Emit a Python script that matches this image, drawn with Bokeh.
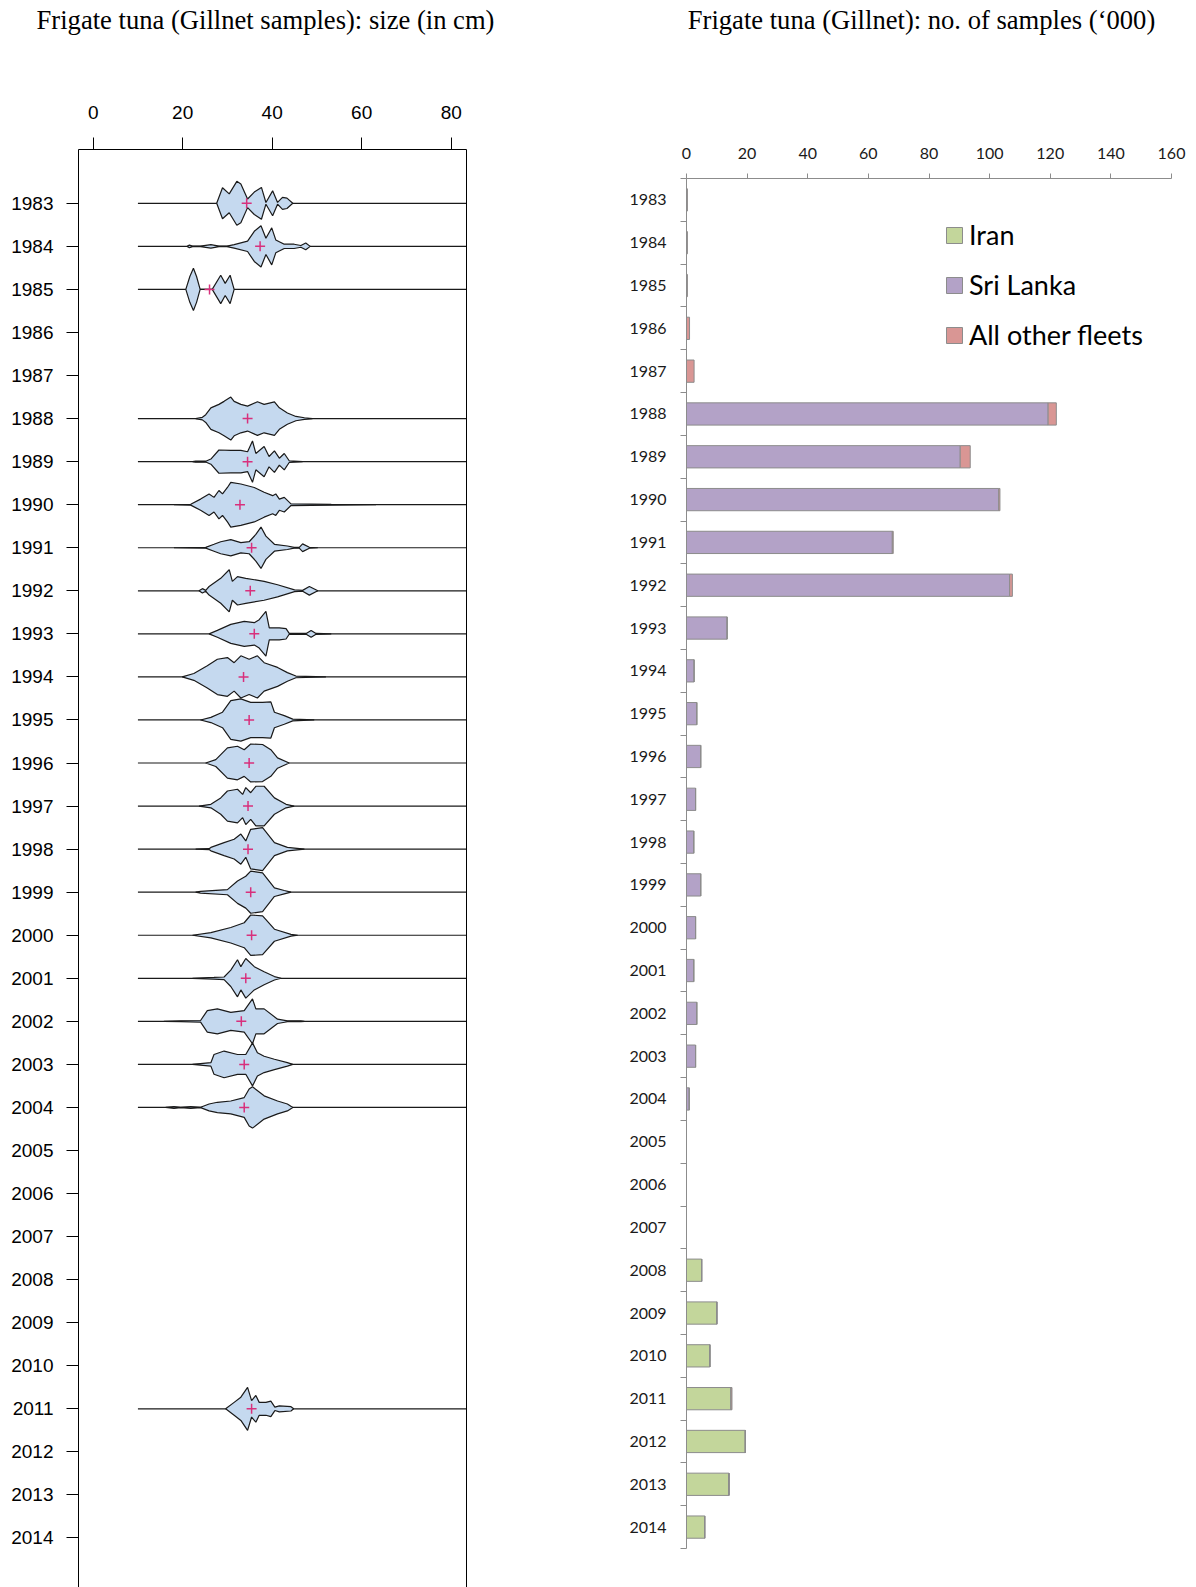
from bokeh.plotting import figure
from bokeh.models import (Range1d, FixedTicker, LinearAxis, Legend, LegendItem,
                          ColumnDataSource)
from bokeh.layouts import row, column
from bokeh.core.properties import value
from bokeh.embed import file_html
from bokeh.resources import INLINE

# ---------------- data ----------------
years = list(range(1983, 2015))
year_labels = [str(y) for y in years]
size_ticks = [0, 20, 40, 60, 80]
sample_ticks = [0, 20, 40, 60, 80, 100, 120, 140, 160]

titles = ["Frigate tuna (Gillnet samples): size (in cm)",
          "Frigate tuna (Gillnet): no. of samples (\u2018000)"]

# bean outlines: (length in cm, half-width in years)
bean_1983 = [(27.6, 0), (28.9, 0.36), (30.4, 0.22), (32.1, 0.51), (33.0, 0.45), (34.5, 0.10),
             (36.0, 0.26), (37.6, 0.37), (38.6, 0.02), (40.1, 0.29), (41.2, 0.02), (42.3, 0.14),
             (43.3, 0.12), (44.6, 0)]
bean_1984 = [(21.0, 0), (21.5, 0.03), (22.2, 0.005), (24.0, 0.005), (26.3, 0.04), (28.1, 0.005),
             (29.9, 0.005), (31.5, 0.04), (34.5, 0.12), (36.0, 0.35), (37.5, 0.48), (38.6, 0.19),
             (39.9, 0.43), (40.8, 0.15), (42.7, 0.05), (44.9, 0.05), (46.4, 0.02), (47.5, 0.08),
             (48.5, 0)]
bean_1985 = [(20.7, 0), (21.6, 0.3), (22.4, 0.49), (23.1, 0.3), (23.9, 0), (26.6, 0),
             (28.5, 0.33), (29.5, 0.14), (30.6, 0.33), (31.5, 0)]
bean_1988 = [(22.9, 0), (24.4, 0.03), (25.15, 0.09), (26.3, 0.25), (28.1, 0.33), (29.25, 0.40),
             (30.75, 0.50), (31.5, 0.40), (33.0, 0.33), (34.5, 0.29), (36.7, 0.39), (38.2, 0.33),
             (40.5, 0.39), (41.6, 0.25), (43.4, 0.13), (45.3, 0.05), (47.2, 0.02), (49.0, 0)]
bean_1989 = [(22.2, 0), (22.9, 0.01), (25.15, 0.01), (26.3, 0.06), (28.1, 0.27), (30.75, 0.26),
             (33.0, 0.26), (34.5, 0.23), (35.6, 0.48), (36.35, 0.19), (38.2, 0.35), (39.3, 0.12),
             (40.5, 0.25), (41.6, 0.08), (42.7, 0.19), (43.8, 0.02), (46.8, 0)]
bean_1990 = [(18.05, 0), (21.8, 0.01), (24.0, 0.13), (25.9, 0.25), (27.0, 0.17), (28.1, 0.33),
             (28.9, 0.25), (30.0, 0.40), (30.75, 0.52), (33.0, 0.48), (36.0, 0.40), (38.2, 0.29),
             (40.1, 0.21), (40.8, 0.25), (41.6, 0.13), (42.7, 0.17), (44.2, 0.02), (53.2, 0.01),
             (63.2, 0)]
bean_1991 = [(18.05, 0), (25.15, 0.01), (27.0, 0.08), (28.5, 0.14), (30.75, 0.19), (33.0, 0.12),
             (34.85, 0.14), (36.35, 0.31), (37.5, 0.48), (38.6, 0.27), (40.5, 0.08), (43.4, 0.04),
             (44.9, 0.01), (46.05, 0.01), (46.8, 0.09), (48.3, 0.01), (50.2, 0)]
bean_1992 = [(23.65, 0), (24.4, 0.05), (25.15, 0.01), (25.9, 0.10), (28.5, 0.29), (30.4, 0.49),
             (31.1, 0.22), (32.25, 0.33), (34.1, 0.29), (38.2, 0.22), (41.2, 0.14), (45.0, 0.02),
             (46.8, 0.01), (48.3, 0.10), (50.2, 0)]
bean_1993 = [(25.9, 0), (27.75, 0.08), (30.75, 0.22), (33.75, 0.29), (36.0, 0.26), (37.1, 0.33),
             (38.6, 0.52), (39.35, 0.14), (41.6, 0.14), (43.1, 0.12), (43.8, 0.01), (47.6, 0.01),
             (48.7, 0.08), (49.8, 0.01), (53.2, 0)]
bean_1994 = [(19.9, 0), (22.5, 0.08), (25.5, 0.26), (27.75, 0.41), (30.0, 0.45), (31.5, 0.33),
             (33.0, 0.49), (34.85, 0.41), (36.7, 0.49), (38.2, 0.33), (41.2, 0.22), (43.4, 0.10),
             (45.3, 0.02), (52.0, 0)]
bean_1995 = [(24.0, 0), (26.3, 0.06), (28.9, 0.18), (30.75, 0.45), (33.0, 0.49), (35.2, 0.41),
             (37.85, 0.41), (39.7, 0.42), (40.5, 0.18), (42.7, 0.10), (44.6, 0.02), (49.4, 0)]
bean_1996 = [(25.15, 0), (27.4, 0.08), (30.0, 0.35), (32.25, 0.39), (33.75, 0.31), (35.2, 0.44),
             (37.85, 0.43), (39.7, 0.31), (41.2, 0.12), (43.8, 0)]
bean_1997 = [(23.65, 0), (26.3, 0.04), (28.5, 0.19), (30.0, 0.35), (32.25, 0.39), (33.4, 0.27),
             (34.1, 0.43), (35.2, 0.31), (36.35, 0.46), (38.2, 0.46), (40.5, 0.19), (43.1, 0.04),
             (44.9, 0)]
bean_1998 = [(22.9, 0), (25.9, 0.01), (26.3, 0.04), (29.25, 0.15), (31.5, 0.23), (33.0, 0.35),
             (34.1, 0.19), (35.2, 0.46), (37.85, 0.50), (40.5, 0.15), (43.4, 0.04), (47.2, 0)]
bean_1999 = [(22.9, 0), (24.0, 0.02), (30.0, 0.06), (32.25, 0.26), (34.1, 0.37), (35.2, 0.49),
             (37.85, 0.45), (40.5, 0.10), (42.7, 0.04), (44.2, 0)]
bean_2000 = [(22.2, 0), (26.3, 0.06), (30.75, 0.18), (33.75, 0.29), (35.2, 0.47), (37.85, 0.45),
             (40.5, 0.14), (44.2, 0.02), (45.7, 0)]
bean_2001 = [(22.2, 0), (27.0, 0.02), (29.25, 0.03), (30.75, 0.19), (32.25, 0.43), (33.0, 0.27),
             (34.1, 0.46), (36.0, 0.27), (38.2, 0.15), (40.5, 0.04), (42.0, 0)]
bean_2002 = [(15.8, 0), (19.55, 0.01), (24.0, 0.02), (25.5, 0.25), (27.75, 0.29), (30.75, 0.21),
             (33.75, 0.25), (35.6, 0.52), (36.35, 0.29), (38.2, 0.29), (41.2, 0.05), (43.4, 0.01),
             (46.4, 0.01), (47.2, 0)]
bean_2003 = [(22.2, 0), (26.3, 0.04), (27.0, 0.23), (29.25, 0.31), (32.25, 0.23), (34.1, 0.23),
             (35.6, 0.50), (36.7, 0.27), (38.2, 0.19), (40.5, 0.12), (43.4, 0.04), (44.6, 0)]
bean_2004 = [(16.2, 0), (18.05, 0.02), (19.55, 0.005), (21.8, 0.02), (24.0, 0.005), (25.9, 0.08),
             (27.75, 0.12), (30.75, 0.15), (33.75, 0.23), (34.85, 0.43), (35.6, 0.48), (38.2, 0.27),
             (41.2, 0.15), (43.4, 0.08), (44.6, 0)]
bean_2011 = [(29.6, 0), (31.5, 0.15), (33.0, 0.27), (34.5, 0.50), (35.4, 0.19), (36.35, 0.31),
             (37.1, 0.15), (38.6, 0.15), (39.7, 0.18), (40.6, 0.04), (41.6, 0.07), (44.2, 0.05),
             (44.8, 0)]

bean_years = [1983, 1984, 1985, 1988, 1989, 1990, 1991, 1992, 1993, 1994, 1995, 1996, 1997,
              1998, 1999, 2000, 2001, 2002, 2003, 2004, 2011]
bean_shapes = [bean_1983, bean_1984, bean_1985, bean_1988, bean_1989, bean_1990, bean_1991,
               bean_1992, bean_1993, bean_1994, bean_1995, bean_1996, bean_1997, bean_1998,
               bean_1999, bean_2000, bean_2001, bean_2002, bean_2003, bean_2004, bean_2011]
mean_length = [34.3, 37.3, 26.0, 34.5, 34.5, 32.8, 35.4, 35.1, 36.0, 33.6, 34.85, 34.85, 34.6,
               34.6, 35.2, 35.4, 34.1, 33.1, 33.75, 33.75, 35.4]
line_start = 10  # lower end of the length lines (cm)

# samples ('000) by fleet
iran = [0] * 25 + [5.0, 10.0, 7.7, 14.7, 19.4, 14.0, 6.0]
sri_lanka = [0, 0, 0, 0, 0, 119.3, 90.3, 103.0, 67.9, 106.6, 13.4, 2.5, 3.4, 4.7, 3.0, 2.4,
             4.7, 3.0, 2.4, 3.4, 3.0, 0.9, 0, 0, 0, 0, 0, 0, 0, 0, 0, 0]
other_fleets = [0.3, 0.3, 0.3, 1.0, 2.5, 2.7, 3.3, 0.4, 0.3, 0.9, 0, 0, 0, 0, 0, 0,
                0, 0, 0, 0, 0, 0, 0, 0, 0, 0, 0, 0, 0.3, 0, 0, 0]
fleet_names = ["Iran", "Sri Lanka", "All other fleets"]
fleet_colors = ["#C3D69B", "#B3A2C7", "#D99694"]

TOP_H = 40

# ---------------- title strip ----------------
pt = figure(width=1196, height=TOP_H, x_range=Range1d(0, 1196), y_range=Range1d(0, TOP_H),
            x_axis_location=None, y_axis_location=None, output_backend="svg",
            toolbar_location=None, min_border=0)
pt.outline_line_color = None
pt.grid.visible = False
pt.text(x=[265, 921], y=[21, 21], text=titles, text_align="center", text_baseline="middle",
        text_font=value("Liberation Serif"), text_font_size=value("26.6px"), text_color="black")

# ---------------- left panel ----------------
X0, X1 = -3.28, 83.42
p1 = figure(width=568, height=1587 - TOP_H, x_range=Range1d(X0, X1),
            y_range=Range1d(2015.15, 1981.75),
            x_axis_location="above", y_axis_location="left", output_backend="svg",
            toolbar_location=None, min_border_left=78, min_border_right=102,
            min_border_top=149 - TOP_H, min_border_bottom=0)
p1.outline_line_color = None
p1.grid.visible = False

xa = p1.xaxis[0]
xa.ticker = FixedTicker(ticks=size_ticks)
xa.major_label_overrides = {t: str(t) for t in size_ticks}
xa.major_tick_out = 12
xa.major_tick_in = 0
xa.minor_tick_line_color = None
xa.axis_line_color = "black"
xa.major_tick_line_color = "black"
xa.major_label_text_font = "Liberation Sans"
xa.major_label_text_font_size = "19px"
xa.major_label_text_color = "black"
xa.major_label_standoff = 19

ya = p1.yaxis[0]
ya.ticker = FixedTicker(ticks=years)
ya.major_label_overrides = dict(zip(years, year_labels))
ya.major_tick_out = 12
ya.major_tick_in = 0
ya.minor_tick_line_color = None
ya.axis_line_color = "black"
ya.major_tick_line_color = "black"
ya.major_label_text_font = "Liberation Sans"
ya.major_label_text_font_size = "19px"
ya.major_label_text_color = "black"
ya.major_label_standoff = 13

ra = LinearAxis(ticker=FixedTicker(ticks=[]), axis_line_color="black",
                major_tick_line_color=None, minor_tick_line_color=None,
                major_label_text_font_size="0px")
p1.add_layout(ra, "right")

p1.segment(x0=[line_start] * len(bean_years), y0=bean_years, x1=[X1] * len(bean_years),
           y1=bean_years, line_color="#1a1a1a", line_width=1.2)

xs, ys = [], []
for yr, pts in zip(bean_years, bean_shapes):
    ls = [l for l, w in pts]
    ws = [w for l, w in pts]
    xs.append(ls + ls[::-1])
    ys.append([yr - w for w in ws] + [yr + w for w in ws[::-1]])
p1.patches(xs=xs, ys=ys, fill_color="#C5D9EF", line_color="#1a1a1a", line_width=1.2)
p1.scatter(x=mean_length, y=bean_years, marker="cross", size=10, line_width=1.5,
           line_color="#D8307C")

# ---------------- right panel ----------------
p2 = figure(width=628, height=1587 - TOP_H, x_range=Range1d(0, 160),
            y_range=Range1d(2014.5, 1982.5),
            x_axis_location="above", y_axis_location="left", output_backend="svg",
            toolbar_location=None, min_border_left=118, min_border_right=25,
            min_border_top=178 - TOP_H, min_border_bottom=39)
p2.outline_line_color = None
p2.grid.visible = False

xb = p2.xaxis[0]
xb.ticker = FixedTicker(ticks=sample_ticks)
xb.major_label_overrides = {t: str(t) for t in sample_ticks}
xb.major_tick_out = 5
xb.major_tick_in = 0
xb.minor_tick_line_color = None
xb.axis_line_color = "#8C8C8C"
xb.major_tick_line_color = "#8C8C8C"
xb.major_label_text_font = "Lato"
xb.major_label_text_font_size = "16px"
xb.major_label_text_color = "#1a1a1a"
xb.major_label_standoff = 15

yb = p2.yaxis[0]
yb.ticker = FixedTicker(ticks=years, minor_ticks=[y + 0.5 for y in [years[0] - 1] + years])
yb.major_label_overrides = dict(zip(years, year_labels))
yb.major_tick_out = 0
yb.major_tick_in = 0
yb.major_tick_line_color = None
yb.minor_tick_out = 6
yb.minor_tick_in = 0
yb.minor_tick_line_color = "#8C8C8C"
yb.axis_line_color = "#8C8C8C"
yb.major_label_text_font = "Lato"
yb.major_label_text_font_size = "16px"
yb.major_label_text_color = "#1a1a1a"
yb.major_label_standoff = 14

src = ColumnDataSource(dict(year=years, iran=iran, sri_lanka=sri_lanka, others=other_fleets))
rs = p2.hbar_stack(["iran", "sri_lanka", "others"], y="year", height=0.52, color=fleet_colors,
                   line_color="#8C8C8C", line_width=1, source=src)

legend = Legend(items=[LegendItem(label=n, renderers=[r]) for n, r in zip(fleet_names, rs)],
                location=(258, 1197), orientation="vertical", glyph_width=20, glyph_height=20,
                label_height=32, label_standoff=5, spacing=17, padding=0, margin=0,
                label_text_font="Lato", label_text_font_size="27px", label_text_color="black",
                border_line_color=None, background_fill_alpha=0)
p2.add_layout(legend)

for p in (pt, p1, p2):
    try:
        p.frame_align = False
    except Exception:
        pass

layout = column(pt, row(p1, p2, spacing=0), spacing=0)
open("out.html", "w").write(file_html(layout, INLINE))
